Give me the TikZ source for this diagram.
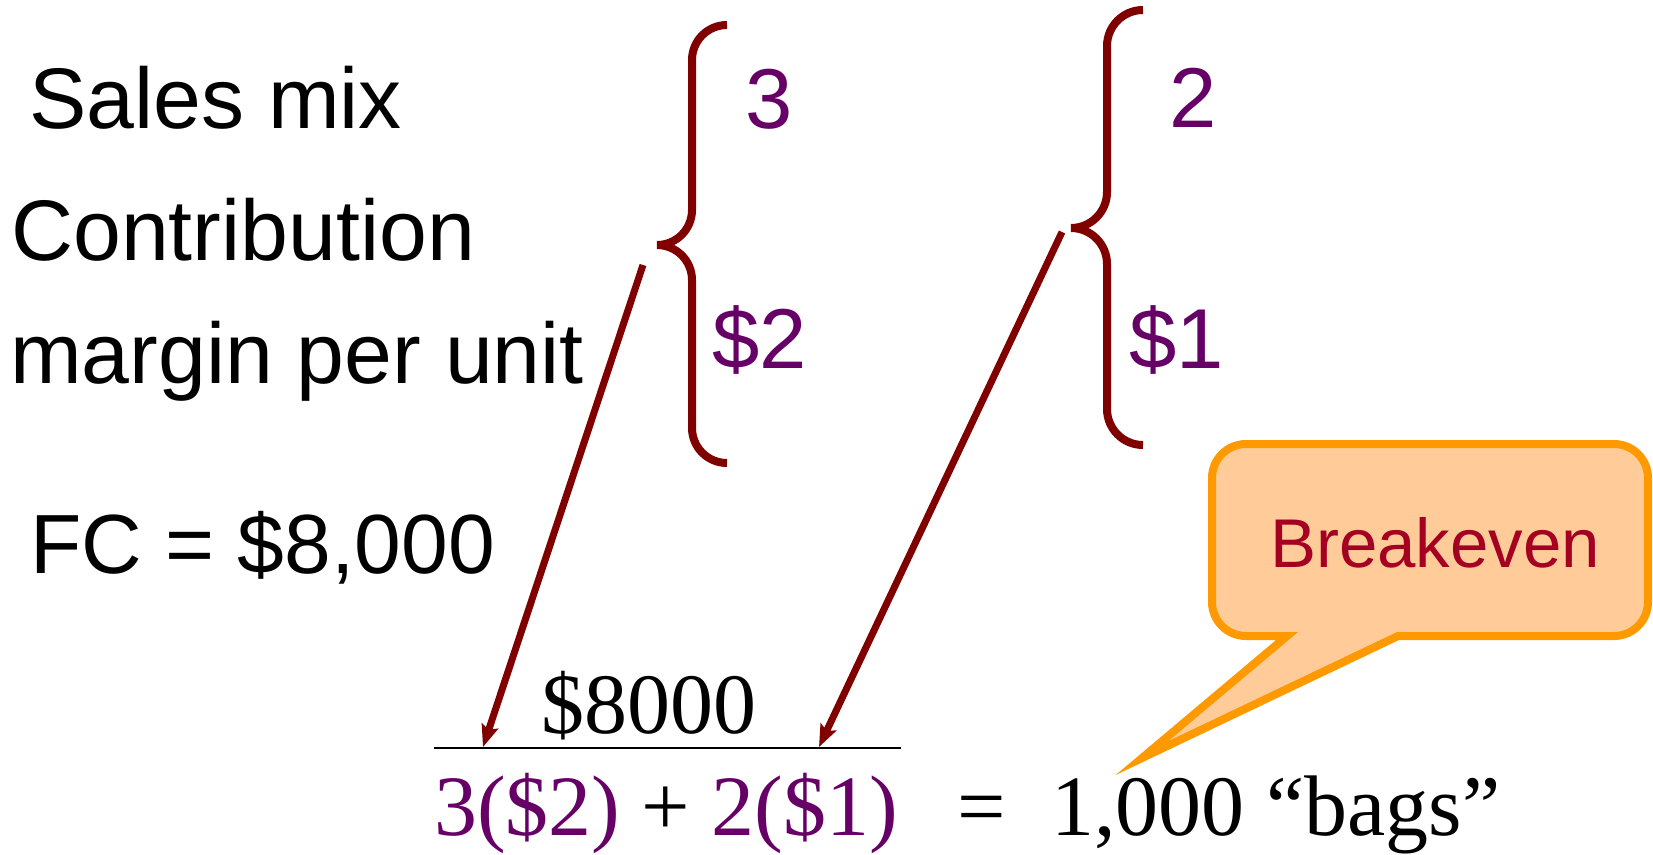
\documentclass[tikz,border=0pt]{standalone}
\usepackage{fontspec}
\setmainfont{Liberation Sans}
\newfontfamily\timesfam{Liberation Serif}
\usetikzlibrary{arrows.meta,positioning}
\definecolor{brc}{HTML}{800000}
\definecolor{mixpurple}{HTML}{660066}
\definecolor{calfill}{HTML}{FFCC99}
\definecolor{caldraw}{HTML}{FF9900}
\definecolor{bktext}{HTML}{A50021}

\begin{document}
\begin{tikzpicture}[x=1pt,y=-1pt,
 t/.style={anchor=base west,inner sep=0pt,font=\fontsize{86}{90}\selectfont},
 n/.style={anchor=base west,inner sep=0pt,text=mixpurple,font=\fontsize{85}{90}\selectfont},
 br/.style={draw=brc,line width=8pt},
 ar/.style={draw=brc,line width=7pt,-{Stealth[length=22pt,width=17pt,inset=4pt]}},
 ser/.style={anchor=base west,inner sep=0pt,font=\timesfam\fontsize{86}{90}\selectfont}]
\useasboundingbox (0,0) rectangle (1653,854);
% left labels
\node[t](mix) at (29,128){Sales mix};
\node[t](cm1) at (11,260){Contribution};
\node[t](cm2) at (10,383){margin per unit};
\node[t,font=\fontsize{84}{90}\selectfont](fc) at (30,573){FC = \$8,000};
% product values
\node[n](mixa) at (745,128){3};
\node[n](cma) at (712,368){\$2};
\node[n](mixb) at (1169,127){2};
\node[n](cmb) at (1129,368){\$1};
% braces
\draw[br] (727,25) arc[start angle=-90,end angle=-180,radius=35] -- (692,210)
 arc[start angle=0,end angle=90,radius=35] arc[start angle=-90,end angle=0,radius=35]
 -- (692,428) arc[start angle=180,end angle=90,radius=35];
\draw[br] (1143,10) arc[start angle=-90,end angle=-180,radius=36] -- (1107,192)
 arc[start angle=0,end angle=90,radius=36] arc[start angle=-90,end angle=0,radius=36]
 -- (1107,409) arc[start angle=180,end angle=90,radius=36];
% fraction
\node[ser,anchor=base](num) at (649,733){\$8000};
\coordinate (fl) at (434,748);
\coordinate (fr) at (901,748);
\draw[line width=2.5pt] (fl) -- (fr);
\node[ser](den) at (434,835){\textcolor{mixpurple}{3(\$2)} + \textcolor{mixpurple}{2(\$1)}};
\node[ser](eq) at (957,835){=};
\node[ser](res) at (1051,835){1,000 “bags”};
% arrows
\coordinate (s1) at (643,265);
\coordinate (e1) at (483,747);
\coordinate (s2) at (1062,232);
\coordinate (e2) at (819,747);
\draw[ar] (s1) -- (e1);
\draw[ar] (s2) -- (e2);
% callout
\draw[draw=caldraw,fill=calfill,line width=8pt] (1287,636) -- (1142,758) -- (1398,636) -- (1614,636)
 arc[start angle=90,end angle=0,radius=34] -- (1648,478)
 arc[start angle=0,end angle=-90,radius=34] -- (1246,444)
 arc[start angle=-90,end angle=-180,radius=34] -- (1212,602)
 arc[start angle=180,end angle=90,radius=34] -- cycle;
\node[anchor=base,inner sep=0pt,text=bktext,font=\fontsize{69}{74}\selectfont](bk) at (1435,567){Breakeven};
\end{tikzpicture}
\end{document}
